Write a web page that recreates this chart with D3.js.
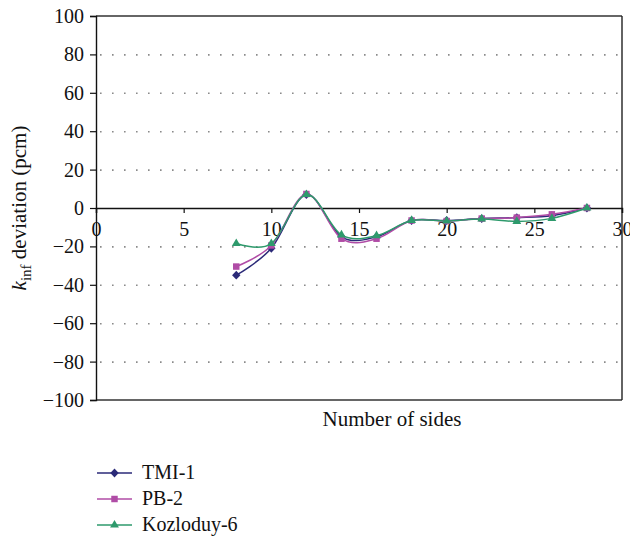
<!DOCTYPE html>
<html>
<head>
<meta charset="utf-8">
<script src="https://cdn.jsdelivr.net/npm/d3@7"></script>
<style>
  html, body { margin: 0; padding: 0; background: #fff; }
  svg { display: block; }
  text { font-family: "Liberation Serif", "DejaVu Serif", serif; fill: #111; }
</style>
</head>
<body>
<svg id="chart" width="630" height="542"></svg>
<script>
// Number of sides of the polygonal cell
const sides = [8, 10, 12, 14, 16, 18, 20, 22, 24, 26, 28];

// k_inf deviation (pcm) per reactor
const tmi1      = [-35, -21, 7, -15, -15, -6.5, -6.5, -5.5, -5, -4, 0];
const pb2       = [-30.5, -19.5, 7.3, -16, -16, -6.5, -6.8, -5.5, -5, -3.3, 0];
const kozloduy6 = [-18.5, -18.5, 7, -14, -14.4, -6.5, -6.8, -5.7, -7, -5.4, 0];

const seriesNames = ["TMI-1", "PB-2", "Kozloduy-6"];
const seriesColors = ["#2b2a78", "#b04ca6", "#2e9a6c"];
const seriesValues = [tmi1, pb2, kozloduy6];

const xTicks = [0, 5, 10, 15, 20, 25, 30];
const yTicks = [-100, -80, -60, -40, -20, 0, 20, 40, 60, 80, 100];

(function () {
const svg = d3.select("#chart");
const mLeft = 96, mRight = 622, mTop = 16, mBottom = 400;
const fontSize = 20;

const x = d3.scaleLinear().domain([0, 30]).range([mLeft, mRight]);
const y = d3.scaleLinear().domain([-100, 100]).range([mBottom, mTop]);

// dotted horizontal grid lines
svg.append("g").selectAll("line")
  .data(yTicks.filter(v => v !== 0 && Math.abs(v) !== 100))
  .join("line")
  .attr("x1", mLeft + 4).attr("x2", mRight - 4)
  .attr("y1", d => y(d) + 0.5).attr("y2", d => y(d) + 0.5)
  .attr("stroke", "#8a8a8a").attr("stroke-width", 1.6)
  .attr("stroke-dasharray", "1.6,10.4");

// frame: top, bottom, right
svg.append("line").attr("x1", mLeft).attr("x2", mRight).attr("y1", mTop).attr("y2", mTop)
  .attr("stroke", "#333").attr("stroke-width", 1.4);
svg.append("line").attr("x1", mLeft).attr("x2", mRight).attr("y1", mBottom).attr("y2", mBottom)
  .attr("stroke", "#333").attr("stroke-width", 1.4);
svg.append("line").attr("x1", mRight).attr("x2", mRight).attr("y1", mTop).attr("y2", mBottom)
  .attr("stroke", "#222").attr("stroke-width", 1.4);

// y axis on the left
const yAxis = d3.axisLeft(y).tickValues(yTicks).tickSize(6).tickPadding(6)
  .tickFormat(d => d < 0 ? "\u2212" + Math.abs(d) : d);
const gy = svg.append("g").attr("transform", `translate(${mLeft},0)`).call(yAxis);
gy.select(".domain").attr("stroke", "#111").attr("stroke-width", 1.4);
gy.selectAll(".tick line").attr("stroke", "#111").attr("stroke-width", 1.2);
gy.selectAll(".tick text").attr("font-size", fontSize).attr("fill", "#111")
  .attr("font-family", "Liberation Serif, serif");

// x axis along the zero line
const xAxis = d3.axisBottom(x).tickValues(xTicks).tickSize(5).tickPadding(9);
const gx = svg.append("g").attr("transform", `translate(0,${y(0)})`).call(xAxis);
gx.select(".domain").attr("stroke", "#111").attr("stroke-width", 1.4);
gx.selectAll(".tick line").attr("stroke", "#111").attr("stroke-width", 1.2);
gx.selectAll(".tick text").attr("font-size", fontSize).attr("fill", "#111")
  .attr("font-family", "Liberation Serif, serif");

// axis titles
svg.append("text").attr("x", 392).attr("y", 426)
  .attr("text-anchor", "middle").attr("font-size", 21).text("Number of sides");

const yt = svg.append("text")
  .attr("transform", `translate(26,${y(0)}) rotate(-90)`)
  .attr("text-anchor", "middle").attr("font-size", 21);
yt.append("tspan").attr("font-style", "italic").text("k");
yt.append("tspan").attr("font-size", 15).attr("dy", 5).text("inf");
yt.append("tspan").attr("dy", -5).text(" deviation (pcm)");

// smoothed series lines (uniform Catmull-Rom)
const line = d3.line()
  .x((d, i) => x(sides[i]))
  .y(d => y(d))
  .curve(d3.curveCatmullRom.alpha(0));

// marker shapes: diamond, square, triangle
const markerPaths = [
  "M0,-4.4L4.2,0L0,4.4L-4.2,0Z",
  d3.symbol().type(d3.symbolSquare).size(42)(),
  d3.symbol().type(d3.symbolTriangle).size(34)()
];

function drawMarker(g, s, cx, cy) {
  g.append("path")
    .attr("d", markerPaths[s])
    .attr("transform", `translate(${cx},${cy})`)
    .attr("fill", seriesColors[s]);
}

[0, 1, 2].forEach(s => {
  const g = svg.append("g");
  g.append("path").datum(seriesValues[s])
    .attr("d", line).attr("fill", "none")
    .attr("stroke", seriesColors[s]).attr("stroke-width", 1.5);
  seriesValues[s].forEach((v, i) => drawMarker(g, s, x(sides[i]), y(v)));
});

// legend
const legendY = [473, 499, 525];
seriesNames.forEach((name, s) => {
  const g = svg.append("g");
  g.append("line").attr("x1", 97).attr("x2", 132)
    .attr("y1", legendY[s]).attr("y2", legendY[s])
    .attr("stroke", seriesColors[s]).attr("stroke-width", 1.5);
  drawMarker(g, s, 114.5, legendY[s]);
  g.append("text").attr("x", 142).attr("y", legendY[s] + 6)
    .attr("font-size", fontSize).text(name);
});
})();
</script>
</body>
</html>
